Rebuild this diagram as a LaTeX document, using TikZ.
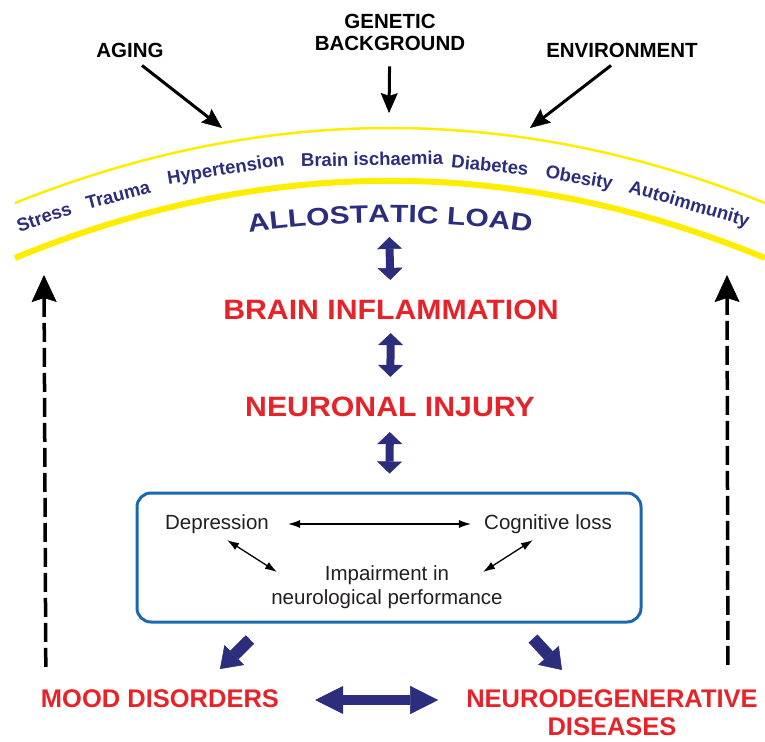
\documentclass[tikz,border=0pt]{standalone}
\usepackage{fontspec}
\setmainfont{Liberation Sans}
\newfontfamily\stagefont[FakeStretch=1.08]{Liberation Sans}
\newfontfamily\loadfont[FakeStretch=1.2]{Liberation Sans}
\usetikzlibrary{positioning,calc,arrows.meta,decorations.text}

\definecolor{arcyellow}{RGB}{255,237,0}
\definecolor{loadnavy}{RGB}{44,45,124}
\definecolor{stagered}{RGB}{229,35,41}
\definecolor{panelblue}{RGB}{28,104,176}
\definecolor{panelink}{RGB}{35,31,32}

\begin{document}
\begin{tikzpicture}[x=1pt,y=-1pt,
		cause/.style={font=\bfseries\fontsize{20.5}{22}\selectfont, align=center, inner sep=2pt},
		factor/.style={font=\bfseries\fontsize{18.5}{22}\selectfont, text=loadnavy, inner sep=0pt},
		stage/.style={font=\stagefont\bfseries\fontsize{28}{32}\selectfont, text=stagered, inner sep=2pt},
		symptom/.style={font=\fontsize{20.5}{24}\selectfont, text=panelink, align=center, inner sep=2pt},
		outcome/.style={font=\bfseries\fontsize{25.5}{28}\selectfont, text=stagered, align=center, inner sep=2pt},
		panel/.style={draw=panelblue, line width=3pt, rounded corners=14pt, minimum width=504pt, minimum height=129pt},
		causearrow/.style={color=black, line width=3pt, -{Stealth[length=20pt,width=17pt,inset=3pt,line width=0.5pt]}},
		twoway/.style={color=loadnavy, line width=8pt, {Triangle[width=25pt,length=12pt,line width=0.5pt]}-{Triangle[width=25pt,length=12pt,line width=0.5pt]}, shorten <=12pt, shorten >=18pt},
		mutual/.style={color=black, line width=1.3pt, {Latex[length=12pt,width=8pt]}-{Latex[length=12pt,width=8pt]}},
		outflow/.style={color=loadnavy, line width=12pt, -{Triangle[width=28pt,length=20pt,line width=0.5pt]}},
		comorbid/.style={color=loadnavy, line width=10pt, {Triangle[width=28pt,length=28pt,line width=0.5pt]}-{Triangle[width=28pt,length=28pt,line width=0.5pt]}},
		feedback/.style={color=black, line width=3.5pt, dash pattern=on 19pt off 6pt, -{Stealth[length=27pt,width=25pt,inset=4pt,line width=0.5pt]}}
		]
		
		\useasboundingbox (0,0) rectangle (765,741);
		
		% -------------------------------------------------
		% Causes on top
		% -------------------------------------------------
		\node[cause] (aging) at (130,50) {AGING};
		\node[cause] (genetic) at (390,32) {GENETIC\\BACKGROUND};
		\node[cause] (environment) at (622,50) {ENVIRONMENT};
		
		\coordinate (hitA) at (222,128);
		\coordinate (hitG) at (389,113);
		\coordinate (hitE) at (530,128);
		
		\draw[causearrow] ($(aging.south)+(12,6)$) -- (hitA);
		\draw[causearrow, shorten <=14pt] (genetic) -- (hitG);
		\draw[causearrow] ($(environment.south)+(-11,6)$) -- (hitE);
		
		% -------------------------------------------------
		% Allostatic load band
		% -------------------------------------------------
		\draw[arcyellow, line width=2.5pt] (15,203) .. controls (265,103) and (515,103) .. (765,203);
		\draw[arcyellow, line width=6pt] (15,258) .. controls (265,155) and (515,155) .. (765,258);
		
		\foreach \word/\x/\y/\r [count=\i] in {Stress/44/217/18.7, Trauma/118/195/14.9,
			Hypertension/226/170/9.1, Brain ischaemia/372/159/1,
			Diabetes/490/165/-5.6, Obesity/579/179/-10.4, Autoimmunity/689/205/-16.3}
		\node[factor, rotate=\r] (factor\i) at (\x,\y) {\word};
		
		\path[decorate, decoration={text along path, text align=center, text color=loadnavy,
			text={|\loadfont\bfseries\fontsize{25}{30}\selectfont|ALLOSTATIC LOAD}}]
		(240,234) .. controls (340,219) and (440,219) .. (540,234);
		\coordinate (load) at (389,225);
		
		% -------------------------------------------------
		% Chain
		% -------------------------------------------------
		\node[stage] (inflam) at (391,310) {BRAIN INFLAMMATION};
		\node[stage] (injury) at (390,407) {NEURONAL INJURY};
		
		\node[panel] (panel) at (389,557.5) {};
		\node[symptom] (depression) at (217,524) {Depression};
		\node[symptom] (cognitive) at (548,524) {Cognitive loss};
		\node[symptom] (impairment) at (387,587) {Impairment in\\neurological performance};
		
		\draw[twoway] (load) -- (inflam);
		\draw[twoway, shorten <=11pt] (inflam) -- (injury);
		\draw[twoway, shorten <=13pt] (injury) -- (panel);
		
		\draw[mutual, shorten <=17pt, shorten >=11pt] (depression) -- (cognitive);
		\draw[mutual] ($(depression)+(10,16)$) -- ($(impairment)+(-110,-15)$);
		\draw[mutual] ($(cognitive)+(-15,16)$) -- ($(impairment)+(96,-15)$);
		
		% -------------------------------------------------
		% Outcomes
		% -------------------------------------------------
		\node[outcome] (mood) at (160,699) {MOOD DISORDERS};
		\node[outcome] (neuro) at (612,713) {NEURODEGENERATIVE\\DISEASES};
		
		\draw[outflow] ($(panel.south)+(-139,16)$) -- ($(mood)+(60,-30)$);
		\draw[outflow] ($(panel.south)+(144,15)$) -- ($(neuro)+(-50,-43)$);
		\draw[comorbid] ($(mood.east)+(34,1)$) -- ($(mood.east)+(157,1)$);
		
		\coordinate (loadL) at (44,275);
		\coordinate (loadR) at (727,275);
		\draw[feedback] ($(mood.north west)+(7,-21)$) -- (loadL);
		\draw[feedback] ($(neuro.north east)+(-32,-23)$) -- (loadR);
		
	\end{tikzpicture}
\end{document}
